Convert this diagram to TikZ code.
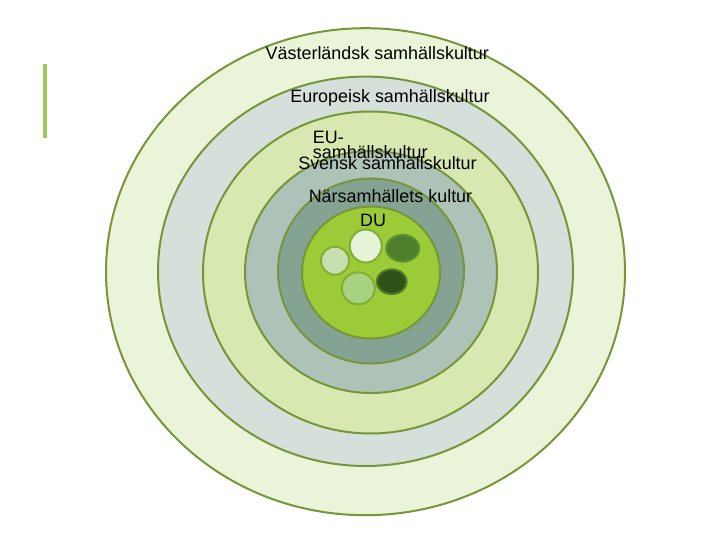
\documentclass[tikz,border=0pt]{standalone}
\usepackage{fontspec}
\setmainfont{Liberation Sans}
\definecolor{ringline}{HTML}{77963A}
\definecolor{fA}{HTML}{EAF4D8}
\definecolor{fB}{HTML}{D6E0DB}
\definecolor{fC}{HTML}{D7E8B0}
\definecolor{fD}{HTML}{AEC3B7}
\definecolor{fE}{HTML}{84A393}
\definecolor{fF}{HTML}{9BCB36}
\definecolor{duline}{HTML}{82AE36}
\definecolor{sWhite}{HTML}{E7F3D8}
\definecolor{sPale}{HTML}{C8E0B0}
\definecolor{sMid}{HTML}{A7D380}
\definecolor{sDark}{HTML}{4F7F2C}
\definecolor{sDarkLine}{HTML}{5E8F34}
\definecolor{sDeep}{HTML}{2F5219}
\definecolor{sDeepLine}{HTML}{4C7A28}
\definecolor{barcol}{HTML}{9FC85C}
\begin{document}
\begin{tikzpicture}[x=1bp,y=-1bp,
  ring/.style={draw=ringline,line width=2bp},
  dot/.style={line width=2bp},
  lbl/.style={font=\fontsize{18}{16}\selectfont,text=black,inner sep=0pt,anchor=base}]
\useasboundingbox (0,0) rectangle (720,540);
% rings
\path[ring,fill=fA] (365.5,271.7) ellipse [x radius=259.5,y radius=243.5];
\path[ring,fill=fB] (365.5,271.3) ellipse [x radius=207.5,y radius=194.7];
\path[ring,fill=fC] (370.5,272.5) ellipse [x radius=167.5,y radius=161];
\path[ring,fill=fD] (371,272) ellipse [x radius=126,y radius=121];
\path[ring,fill=fE] (371,271) ellipse [x radius=93,y radius=92.5];
\path[ring,fill=fF] (371,272.5) ellipse [x radius=69,y radius=66];
% small circles inside DU
\path[dot,draw=duline,fill=sWhite] (365.7,246) ellipse [x radius=16,y radius=16.5];
\path[dot,draw=sDarkLine,fill=sDark] (402.7,248.3) ellipse [x radius=16.5,y radius=13.3];
\path[dot,draw=duline,fill=sPale] (335,260.7) ellipse [x radius=14,y radius=14];
\path[dot,draw=duline,fill=sMid] (358.3,288.3) ellipse [x radius=16.5,y radius=16];
\path[dot,draw=sDeepLine,fill=sDeep] (391.7,281.7) ellipse [x radius=15,y radius=12.3];
% labels
\node[lbl] (vast) at (377.3,59.3) {Västerländsk samhällskultur};
\node[lbl] (euro) at (390,102.3) {Europeisk samhällskultur};
\node[lbl,anchor=base west] (eu1) at (312.7,143.3) {EU-};
\node[lbl,anchor=base west] (eu2) at (312.7,159) {samhällskultur};
\node[lbl] (sve) at (387.5,169.7) {Svensk samhällskultur};
\node[lbl] (nar) at (390.5,202.3) {Närsamhällets kultur};
\node[lbl] (du) at (373,226.7) {DU};
% left bar
\draw[barcol,line width=3.4bp] (45,64) -- (45,138.3);
\end{tikzpicture}
\end{document}
